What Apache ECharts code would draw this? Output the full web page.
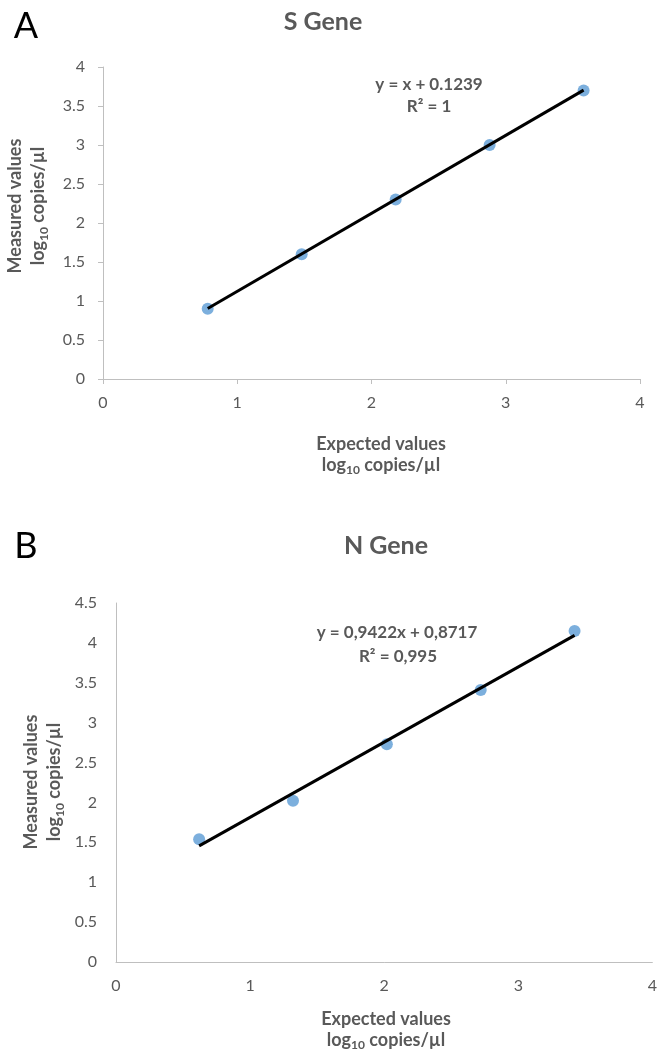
<!DOCTYPE html>
<html>
<head>
<meta charset="utf-8">
<script src="https://cdn.jsdelivr.net/npm/echarts@6/dist/echarts.min.js"></script>
<style>
html,body{margin:0;padding:0;background:#fff;}
#c{width:660px;height:1053px;}
</style>
</head>
<body>
<div id="c"></div>
<script>
// Panel A: S Gene
const sExpected = [0.78, 1.48, 2.18, 2.88, 3.58];
const sMeasured = [0.90, 1.60, 2.30, 3.00, 3.70];
const sSlope = 1, sIntercept = 0.1239;
// Panel B: N Gene
const nExpected = [0.62, 1.32, 2.02, 2.72, 3.42];
const nMeasured = [1.54, 2.02, 2.73, 3.41, 4.15];
const nSlope = 0.9422, nIntercept = 0.8717;

const xTicksA = [0, 1, 2, 3, 4];
const yTicksA = [0, 0.5, 1, 1.5, 2, 2.5, 3, 3.5, 4];
const xTicksB = [0, 1, 2, 3, 4];
const yTicksB = [0, 0.5, 1, 1.5, 2, 2.5, 3, 3.5, 4, 4.5];

const FONT = 'Lato';
const GRAY = '#595959';
const AXIS = '#bfbfbf';
const BLUE = '#5b9bd5';

function pts(xs, ys) { return xs.map((x, i) => [x, ys[i]]); }
function trend(xs, m, b) {
  const a = xs[0], z = xs[xs.length - 1];
  return [[a, m * a + b], [z, m * z + b]];
}
function valAxis(grid, ticks, showTick, margin) {
  return {
    type: 'value', gridIndex: grid,
    min: ticks[0], max: ticks[ticks.length - 1], interval: ticks[1] - ticks[0],
    axisLine: { show: true, lineStyle: { color: AXIS, width: 1 } },
    axisTick: { show: showTick, length: 5, lineStyle: { color: AXIS } },
    splitLine: { show: false },
    axisLabel: { color: GRAY, fontSize: 16, fontFamily: FONT, margin: margin }
  };
}
const rich = {
  b: { fontFamily: FONT, fontWeight: 'bold', fontSize: 18, fill: GRAY, color: GRAY },
  s: { fontFamily: FONT, fontWeight: 'bold', fontSize: 12, fill: GRAY, color: GRAY, verticalAlign: 'bottom', padding: [7, 0, 0, 0] }
};
const nameText = '{b|Expected values}\n{b|log}{s|10}{b| copies/µl}';
const yNameText = '{b|Measured values}\n{b|log}{s|10}{b| copies/µl}';

function txt(x, y, text, opts, rot) {
  const g = {
    type: 'text', x: x, y: y,
    style: Object.assign({
      text: text, fill: GRAY, font: 'bold 17px ' + FONT,
      textAlign: 'center', textVerticalAlign: 'middle'
    }, opts || {})
  };
  if (rot) g.rotation = Math.PI / 2;
  return g;
}

const chart = echarts.init(document.getElementById('c'));
chart.setOption({
  animation: false,
  backgroundColor: '#fff',
  grid: [
    { left: 103, top: 67, width: 537, height: 312 },
    { left: 116, top: 603, width: 540, height: 359 }
  ],
  xAxis: [
    valAxis(0, xTicksA, true, 16),
    valAxis(1, xTicksB, false, 16)
  ],
  yAxis: [
    valAxis(0, yTicksA, true, 18),
    valAxis(1, yTicksB, false, 19)
  ],
  series: [
    { type: 'scatter', xAxisIndex: 0, yAxisIndex: 0, data: pts(sExpected, sMeasured),
      symbolSize: 12, itemStyle: { color: BLUE }, z: 2 },
    { type: 'line', xAxisIndex: 0, yAxisIndex: 0, data: trend(sExpected, sSlope, sIntercept),
      symbol: 'none', lineStyle: { color: '#000', width: 3 }, z: 3 },
    { type: 'scatter', xAxisIndex: 1, yAxisIndex: 1, data: pts(nExpected, nMeasured),
      symbolSize: 12, itemStyle: { color: BLUE }, z: 2 },
    { type: 'line', xAxisIndex: 1, yAxisIndex: 1, data: trend(nExpected, nSlope, nIntercept),
      symbol: 'none', lineStyle: { color: '#000', width: 3 }, z: 3 }
  ],
  graphic: [
    txt(26, 26, 'A', { fill: '#000', font: '36px ' + FONT }),
    txt(323, 22, 'S Gene', { font: 'bold 25px ' + FONT }),
    txt(429, 85, 'y = x + 0.1239'),
    txt(429, 107, 'R² = 1'),
    txt(381, 455, nameText, { rich: rich, lineHeight: 21 }),
    txt(27, 206, yNameText, { rich: rich, lineHeight: 23 }, true),
    txt(26, 546, 'B', { fill: '#000', font: '36px ' + FONT }),
    txt(386, 546, 'N Gene', { font: 'bold 25px ' + FONT }),
    txt(397, 633, 'y = 0,9422x + 0,8717'),
    txt(398, 657, 'R² = 0,995'),
    txt(386, 1030, nameText, { rich: rich, lineHeight: 21 }),
    txt(43, 782, yNameText, { rich: rich, lineHeight: 23 }, true)
  ]
});
</script>
</body>
</html>
